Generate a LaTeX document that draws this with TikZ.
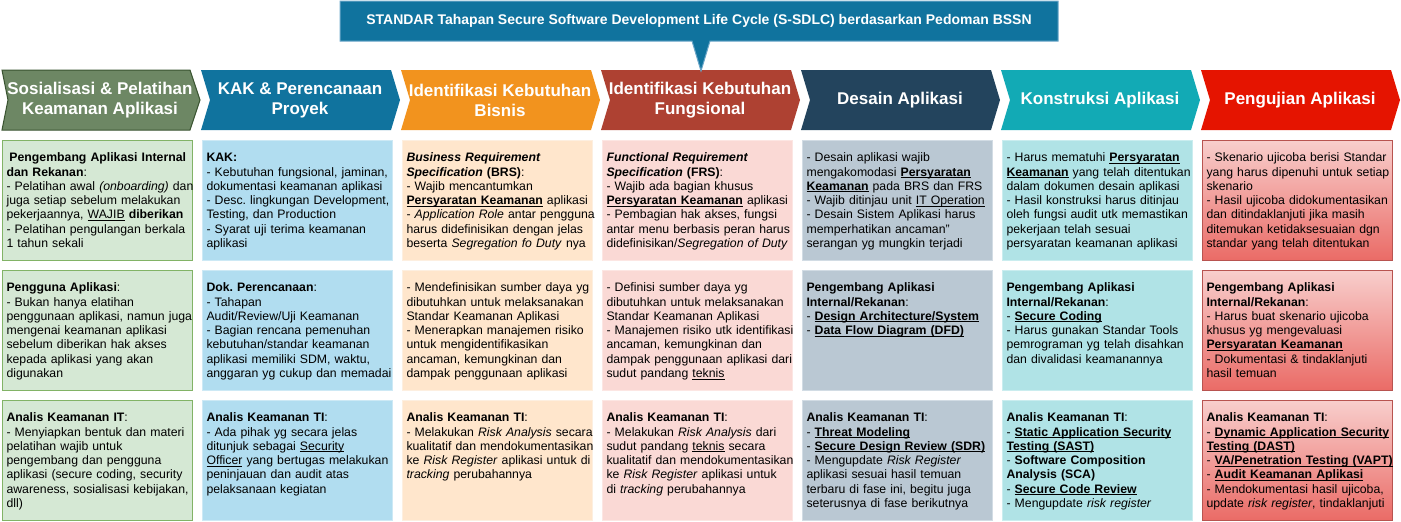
\documentclass[tikz,border=0pt]{standalone}
\usepackage{fontspec}
\setmainfont{Liberation Sans}

\definecolor{sosHead}{HTML}{6D8764}
\definecolor{sosEdge}{HTML}{3A5431}
\definecolor{sosFill}{HTML}{D5E8D4}
\definecolor{sosLine}{HTML}{82B366}
\definecolor{kakHead}{HTML}{10739E}
\definecolor{kakFill}{HTML}{B1DDF0}
\definecolor{kakLine}{HTML}{CDE9F5}
\definecolor{bisHead}{HTML}{F2931E}
\definecolor{bisFill}{HTML}{FFE6CC}
\definecolor{bisLine}{HTML}{FDEFE0}
\definecolor{funHead}{HTML}{AE4132}
\definecolor{funFill}{HTML}{FAD9D5}
\definecolor{funLine}{HTML}{FCE6E3}
\definecolor{desHead}{HTML}{23445D}
\definecolor{desFill}{HTML}{BAC8D3}
\definecolor{desLine}{HTML}{D2DCE4}
\definecolor{konHead}{HTML}{12AAB5}
\definecolor{konFill}{HTML}{B0E3E6}
\definecolor{konLine}{HTML}{CAEDEF}
\definecolor{ujiHead}{HTML}{E51400}
\definecolor{ujiTop}{HTML}{F8CECC}
\definecolor{ujiBot}{HTML}{EA6B66}
\definecolor{ujiLine}{HTML}{B85450}
\definecolor{titleLine}{HTML}{6AA6C8}

\newcommand{\celltext}[1]{\begin{tabular}[t]{@{}l@{}}#1\end{tabular}}
\newcommand{\undl}[1]{\setbox0\hbox{#1}\rlap{\rule[-1.4pt]{\wd0}{0.6pt}}\box0\relax}

\begin{document}
\begin{tikzpicture}[x=0.75pt,y=-0.75pt,
	head/.style={text=white,align=center,font=\fontsize{12.75}{15}\selectfont\bfseries},
	cell/.style={draw,line width=0.75pt,anchor=north west,text width=135.7pt,
		inner xsep=3.4pt,inner ysep=9pt,text height=7pt,text depth=65pt,
		font=\fontsize{9.2}{10.7}\selectfont\frenchspacing}]
	\useasboundingbox (0,0) rectangle (1401,521);
	% phase arrows
	\draw[fill=sosHead,draw=sosEdge,line width=0.75pt] (2,70) -- (190,70) -- (200,100) -- (190,130) -- (2,130) -- (8,100) -- cycle;
	\fill[kakHead] (201,70) -- (391,70) -- (400,100) -- (391,130) -- (201,130) -- (210,100) -- cycle;
	\fill[bisHead] (401,70) -- (591,70) -- (600,100) -- (591,130) -- (401,130) -- (410,100) -- cycle;
	\fill[funHead] (601,70) -- (791,70) -- (800,100) -- (791,130) -- (601,130) -- (610,100) -- cycle;
	\fill[desHead] (801,70) -- (991,70) -- (1000,100) -- (991,130) -- (801,130) -- (810,100) -- cycle;
	\fill[konHead] (1001,70) -- (1191,70) -- (1200,100) -- (1191,130) -- (1001,130) -- (1010,100) -- cycle;
	\fill[ujiHead] (1201,70) -- (1391,70) -- (1400,100) -- (1391,130) -- (1201,130) -- (1210,100) -- cycle;
	\node[head] (hsos) at (100,100) {Sosialisasi \& Pelatihan\\Keamanan Aplikasi};
	\node[head] (hkak) at (300,100) {KAK \& Perencanaan\\Proyek};
	\node[head] (hbis) at (500,100) {Identifikasi Kebutuhan\\Bisnis};
	\node[head] (hfun) at (700,100) {Identifikasi Kebutuhan\\Fungsional};
	\node[head] (hdes) at (900,100) {Desain Aplikasi};
	\node[head] (hkon) at (1100,100) {Konstruksi Aplikasi};
	\node[head] (huji) at (1300,100) {Pengujian Aplikasi};
	% title callout
	\draw[fill=kakHead,draw=titleLine,line width=0.75pt] (340,1) -- (1058,1) -- (1058,41) -- (710,41) -- (701,71) -- (692,41) -- (340,41) -- cycle;
	\node[text=white,font=\fontsize{10.5}{12}\selectfont\bfseries] (title) at (699,21) {STANDAR Tahapan Secure Software Development Life Cycle (S-SDLC) berdasarkan Pedoman BSSN};
	% Sosialisasi
	\node[cell,draw=sosLine,fill=sosFill] (sos1) at (1.5,140) {\celltext{\hspace{2.2pt}\textbf{Pengembang Aplikasi Internal}\\\textbf{dan Rekanan}:\\- Pelatihan awal \textit{(onboarding)} dan\\juga setiap sebelum melakukan\\pekerjaannya, \undl{WAJIB} \textbf{diberikan}\\- Pelatihan pengulangan berkala\\1 tahun sekali}};
	\node[cell,draw=sosLine,fill=sosFill] (sos2) at (1.5,270) {\celltext{\textbf{Pengguna Aplikasi}:\\- Bukan hanya elatihan\\penggunaan aplikasi, namun juga\\mengenai keamanan aplikasi\\sebelum diberikan hak akses\\kepada aplikasi yang akan\\digunakan}};
	\node[cell,draw=sosLine,fill=sosFill] (sos3) at (1.5,400) {\celltext{\textbf{Analis Keamanan IT}:\\- Menyiapkan bentuk dan materi\\pelatihan wajib untuk\\pengembang dan pengguna\\aplikasi (secure coding, security\\awareness, sosialisasi kebijakan,\\dll)}};
	% KAK
	\node[cell,draw=kakLine,fill=kakFill] (kak1) at (201.5,140) {\celltext{\textbf{KAK:}\\- Kebutuhan fungsional, jaminan,\\dokumentasi keamanan aplikasi\\- Desc. lingkungan Development,\\Testing, dan Production\\- Syarat uji terima keamanan\\aplikasi}};
	\node[cell,draw=kakLine,fill=kakFill] (kak2) at (201.5,270) {\celltext{\textbf{Dok. Perencanaan}:\\- Tahapan\\Audit/Review/Uji Keamanan\\- Bagian rencana pemenuhan\\kebutuhan/standar keamanan\\aplikasi memiliki SDM, waktu,\\anggaran yg cukup dan memadai}};
	\node[cell,draw=kakLine,fill=kakFill] (kak3) at (201.5,400) {\celltext{\textbf{Analis Keamanan TI}:\\- Ada pihak yg secara jelas\\ditunjuk sebagai \undl{Security}\\\undl{Officer} yang bertugas melakukan\\peninjauan dan audit atas\\pelaksanaan kegiatan}};
	% Bisnis
	\node[cell,draw=bisLine,fill=bisFill] (bis1) at (401.5,140) {\celltext{\textbf{\textit{Business Requirement}}\\\textbf{\textit{Specification} (BRS)}:\\- Wajib mencantumkan\\\textbf{\undl{Persyaratan Keamanan}} aplikasi\\- \textit{Application Role} antar pengguna\\harus didefinisikan dengan jelas\\beserta \textit{Segregation fo Duty} nya}};
	\node[cell,draw=bisLine,fill=bisFill] (bis2) at (401.5,270) {\celltext{- Mendefinisikan sumber daya yg\\dibutuhkan untuk melaksanakan\\Standar Keamanan Aplikasi\\- Menerapkan manajemen risiko\\untuk mengidentifikasikan\\ancaman, kemungkinan dan\\dampak penggunaan aplikasi}};
	\node[cell,draw=bisLine,fill=bisFill] (bis3) at (401.5,400) {\celltext{\textbf{Analis Keamanan TI}:\\- Melakukan \textit{Risk Analysis} secara\\kualitatif dan mendokumentasikan\\ke \textit{Risk Register} aplikasi untuk di\\\textit{tracking} perubahannya}};
	% Fungsional
	\node[cell,draw=funLine,fill=funFill] (fun1) at (601.5,140) {\celltext{\textbf{\textit{Functional Requirement}}\\\textbf{\textit{Specification} (FRS)}:\\- Wajib ada bagian khusus\\\textbf{\undl{Persyaratan Keamanan}} aplikasi\\- Pembagian hak akses, fungsi\\antar menu berbasis peran harus\\didefinisikan/\textit{Segregation of Duty}}};
	\node[cell,draw=funLine,fill=funFill] (fun2) at (601.5,270) {\celltext{- Definisi sumber daya yg\\dibutuhkan untuk melaksanakan\\Standar Keamanan Aplikasi\\- Manajemen risiko utk identifikasi\\ancaman, kemungkinan dan\\dampak penggunaan aplikasi dari\\sudut pandang \undl{teknis}}};
	\node[cell,draw=funLine,fill=funFill] (fun3) at (601.5,400) {\celltext{\textbf{Analis Keamanan TI}:\\- Melakukan \textit{Risk Analysis} dari\\sudut pandang \undl{teknis} secara\\kualitatif dan mendokumentasikan\\ke \textit{Risk Register} aplikasi untuk\\di \textit{tracking} perubahannya}};
	% Desain
	\node[cell,draw=desLine,fill=desFill] (des1) at (801.5,140) {\celltext{- Desain aplikasi wajib\\mengakomodasi \textbf{\undl{Persyaratan}}\\\textbf{\undl{Keamanan}} pada BRS dan FRS\\- Wajib ditinjau unit \undl{IT Operation}\\- Desain Sistem Aplikasi harus\\memperhatikan ancaman"\\serangan yg mungkin terjadi}};
	\node[cell,draw=desLine,fill=desFill] (des2) at (801.5,270) {\celltext{\textbf{Pengembang Aplikasi}\\\textbf{Internal/Rekanan}:\\- \textbf{\undl{Design Architecture/System}}\\- \textbf{\undl{Data Flow Diagram (DFD)}}}};
	\node[cell,draw=desLine,fill=desFill] (des3) at (801.5,400) {\celltext{\textbf{Analis Keamanan TI}:\\- \textbf{\undl{Threat Modeling}}\\- \textbf{\undl{Secure Design Review (SDR)}}\\- Mengupdate \textit{Risk Register}\\aplikasi sesuai hasil temuan\\terbaru di fase ini, begitu juga\\seterusnya di fase berikutnya}};
	% Konstruksi
	\node[cell,draw=konLine,fill=konFill] (kon1) at (1001.5,140) {\celltext{- Harus mematuhi \textbf{\undl{Persyaratan}}\\\textbf{\undl{Keamanan}} yang telah ditentukan\\dalam dokumen desain aplikasi\\- Hasil konstruksi harus ditinjau\\oleh fungsi audit utk memastikan\\pekerjaan telah sesuai\\persyaratan keamanan aplikasi}};
	\node[cell,draw=konLine,fill=konFill] (kon2) at (1001.5,270) {\celltext{\textbf{Pengembang Aplikasi}\\\textbf{Internal/Rekanan}:\\- \textbf{\undl{Secure Coding}}\\- Harus gunakan Standar Tools\\pemrograman yg telah disahkan\\dan divalidasi keamanannya}};
	\node[cell,draw=konLine,fill=konFill] (kon3) at (1001.5,400) {\celltext{\textbf{Analis Keamanan TI}:\\- \textbf{\undl{Static Application Security}}\\\textbf{\undl{Testing (SAST)}}\\- \textbf{Software Composition}\\\textbf{Analysis (SCA)}\\- \textbf{\undl{Secure Code Review}}\\- Mengupdate \textit{risk register}}};
	% Pengujian
	\node[cell,draw=ujiLine,top color=ujiTop,bottom color=ujiBot] (uji1) at (1201.5,140) {\celltext{- Skenario ujicoba berisi Standar\\yang harus dipenuhi untuk setiap\\skenario\\- Hasil ujicoba didokumentasikan\\dan ditindaklanjuti jika masih\\ditemukan ketidaksesuaian dgn\\standar yang telah ditentukan}};
	\node[cell,draw=ujiLine,top color=ujiTop,bottom color=ujiBot] (uji2) at (1201.5,270) {\celltext{\textbf{Pengembang Aplikasi}\\\textbf{Internal/Rekanan}:\\- Harus buat skenario ujicoba\\khusus yg mengevaluasi\\\textbf{\undl{Persyaratan Keamanan}}\\- Dokumentasi \& tindaklanjuti\\hasil temuan}};
	\node[cell,draw=ujiLine,top color=ujiTop,bottom color=ujiBot] (uji3) at (1201.5,400) {\celltext{\textbf{Analis Keamanan TI}:\\- \textbf{\undl{Dynamic Application Security}}\\\textbf{\undl{Testing (DAST)}}\\- \textbf{\undl{VA/Penetration Testing (VAPT)}}\\- \textbf{\undl{Audit Keamanan Aplikasi}}\\- Mendokumentasi hasil ujicoba,\\update \textit{risk register}, tindaklanjuti}};
\end{tikzpicture}
\end{document}
